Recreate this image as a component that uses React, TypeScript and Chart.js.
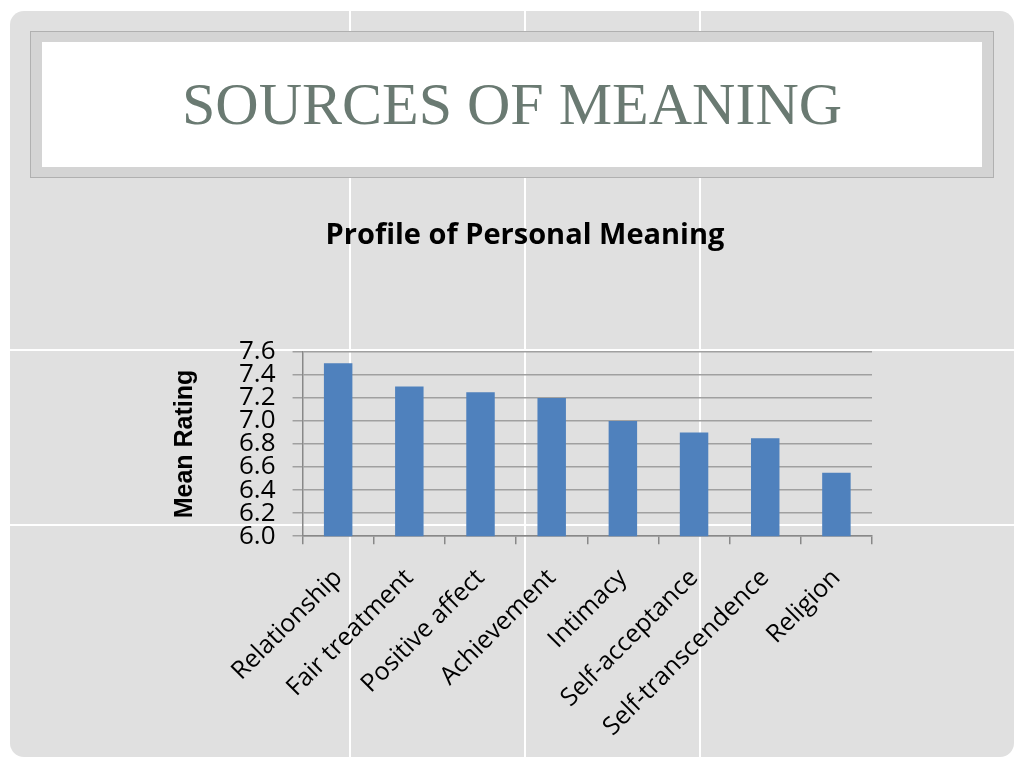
import { useEffect, useRef } from 'react'
import { Chart, registerables } from 'chart.js'

Chart.register(...registerables)

const categories = [
  'Relationship',
  'Fair treatment',
  'Positive affect',
  'Achievement',
  'Intimacy',
  'Self-acceptance',
  'Self-transcendence',
  'Religion'
]
const meanRatings = [7.5, 7.3, 7.25, 7.2, 7.0, 6.9, 6.85, 6.55]
const yTicks = [6.0, 6.2, 6.4, 6.6, 6.8, 7.0, 7.2, 7.4, 7.6]

function ProfileChart() {
  const canvasRef = useRef<HTMLCanvasElement>(null)

  useEffect(() => {
    if (!canvasRef.current) return
    const chart = new Chart(canvasRef.current, {
      type: 'bar',
      data: {
        labels: categories,
        datasets: [
          {
            label: 'Mean Rating',
            data: meanRatings,
            backgroundColor: '#4f81bd',
            categoryPercentage: 0.5,
            barPercentage: 0.8
          }
        ]
      },
      options: {
        responsive: false,
        animation: false,
        // left padding pushes the chart title's centre to the right
        layout: { padding: { left: 28, right: 18, top: 0, bottom: 0 } },
        plugins: {
          legend: { display: false },
          tooltip: { enabled: false },
          title: {
            display: true,
            text: 'Profile of Personal Meaning',
            color: '#000',
            font: { family: 'Open Sans', weight: 'bold', size: 29 },
            padding: { top: 18, bottom: 99 }
          }
        },
        scales: {
          x: {
            grid: { offset: true, drawOnChartArea: false, tickLength: 8, color: '#888', lineWidth: 1.5 },
            border: { color: '#888', width: 1.5 },
            ticks: {
              maxRotation: 45,
              minRotation: 45,
              autoSkip: false,
              padding: 19,
              color: '#000',
              font: { family: 'Open Sans', size: 25 }
            }
          },
          y: {
            min: 6.0,
            max: 7.6,
            afterBuildTicks: (scale) => {
              scale.ticks = yTicks.map((v) => ({ value: v }))
            },
            grid: { color: '#a0a0a0', lineWidth: 1.5, tickLength: 10 },
            border: { color: '#888', width: 1.5 },
            ticks: {
              autoSkip: false,
              padding: 17,
              color: '#000',
              font: { family: 'Open Sans', size: 26 },
              callback: (value) => Number(value).toFixed(1)
            },
            title: {
              display: true,
              text: 'Mean Rating',
              color: '#000',
              font: { family: 'Liberation Sans', weight: 'bold', size: 25 },
              padding: { top: -8, bottom: 22 }
            }
          }
        }
      }
    })
    return () => chart.destroy()
  }, [])

  return <canvas ref={canvasRef} width={740} height={561} />
}

export default function App() {
  const vLines = [350, 525, 700]
  const hLines = [350, 525]
  return (
    <div style={{ position: 'fixed', left: 0, top: 0, width: 1024, height: 768, background: '#fff', overflow: 'hidden' }}>
      {/* slide */}
      <div
        style={{
          position: 'absolute',
          left: 10,
          top: 11,
          width: 1004,
          height: 746,
          background: '#e0e0e0',
          borderRadius: 14,
          overflow: 'hidden'
        }}
      >
        {vLines.map((x) => (
          <div key={'v' + x} style={{ position: 'absolute', left: x - 11, top: 0, width: 2, height: '100%', background: '#fff' }} />
        ))}
        {hLines.map((y) => (
          <div key={'h' + y} style={{ position: 'absolute', top: y - 12, left: 0, height: 2, width: '100%', background: '#fff' }} />
        ))}
      </div>

      {/* title box */}
      <div
        style={{
          position: 'absolute',
          left: 30,
          top: 31,
          width: 962,
          height: 145,
          background: '#d4d4d4',
          border: '1px solid #b0b0b0'
        }}
      >
        <div
          style={{
            position: 'absolute',
            left: 11,
            top: 10,
            width: 940,
            height: 125,
            background: '#fff',
            display: 'flex',
            alignItems: 'center',
            justifyContent: 'center'
          }}
        >
          <span style={{ fontFamily: 'Liberation Serif', fontSize: 60, color: '#6a7a72' }}>
            SOURCES OF MEANING
          </span>
        </div>
      </div>

      <div style={{ position: 'absolute', left: 150, top: 200 }}>
        <ProfileChart />
      </div>
    </div>
  )
}
